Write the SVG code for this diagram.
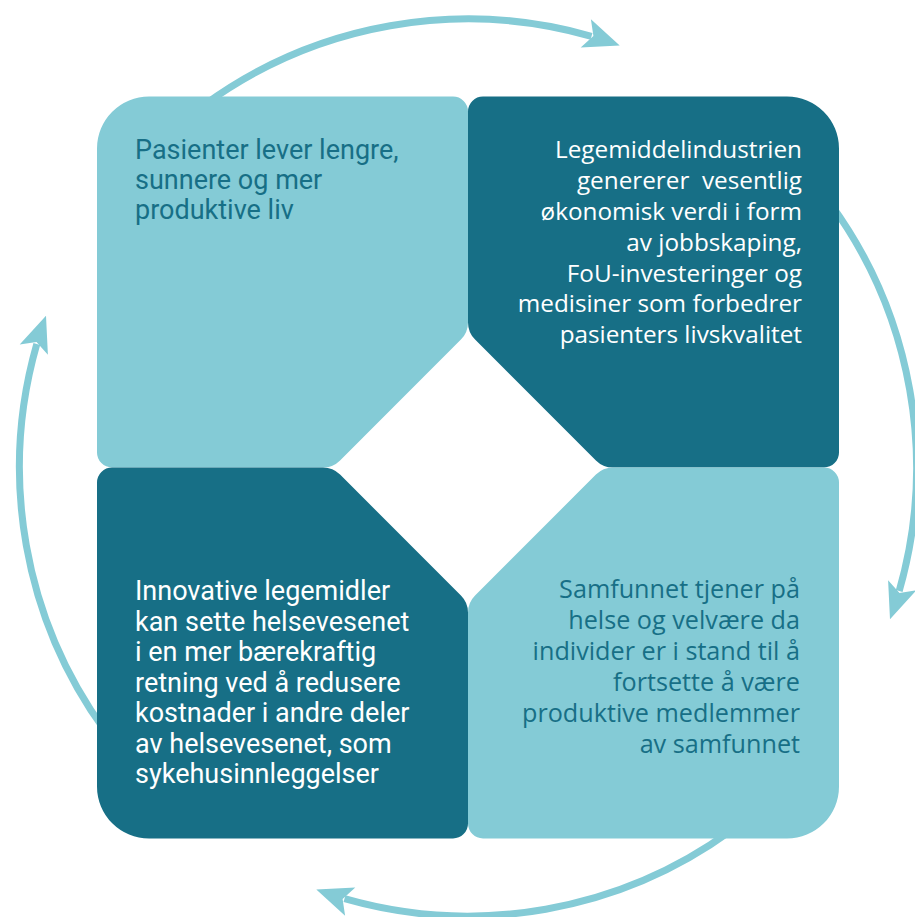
<svg xmlns="http://www.w3.org/2000/svg" xmlns:xlink="http://www.w3.org/1999/xlink" width="915" height="917" viewBox="0 0 915 917">
<defs>
<style>
.light{fill:#84CBD6}
.dark{fill:#176F86}
.arc{fill:none;stroke:#84CBD6;stroke-width:7}
.head{fill:#84CBD6}
.tr{font-family:Roboto,"Liberation Sans",sans-serif}
.th{font-family:"Open Sans","Liberation Sans",sans-serif}
.tw{fill:#FFFFFF}
.td{fill:#176F86}
</style>
<path id="tile" d="M -319,-371 H -15 A 15 15 0 0 1 0,-356 V -145 Q 0,-135 -7.07,-127.93 L -127.93,-7.07 Q -135,0 -145,0 H -356 A 15 15 0 0 1 -371,-15 V -319 A 52 52 0 0 1 -319,-371 Z"/>
<g id="arrow">
<path class="arc" d="M 204.7,104.6 A 448 448 0 0 1 591.5,36.3"/>
<polygon class="head" points="619.7,45.5 590.9,19.2 593.4,36.0 580.7,47.4"/>
</g>
</defs>
<rect width="915" height="917" fill="#FFFFFF"/>
<g id="connectors">
<use xlink:href="#arrow"/>
<use xlink:href="#arrow" transform="rotate(90 468 467.5)"/>
<use xlink:href="#arrow" transform="rotate(180 468 467.5)"/>
<use xlink:href="#arrow" transform="rotate(270 468 467.5)"/>
</g>
<g id="node-top-left">
<use xlink:href="#tile" class="light" transform="translate(468 467.5)"/>
<text class="tr td" font-size="27" x="135"><tspan x="135" y="159">Pasienter lever lengre,</tspan><tspan x="135" y="189">sunnere og mer</tspan><tspan x="135" y="219">produktive liv</tspan></text>
</g>
<g id="node-top-right">
<use xlink:href="#tile" class="dark" transform="translate(468 467.5) rotate(90)"/>
<text class="th tw" font-size="24.3" text-anchor="end" xml:space="preserve"><tspan x="802" y="158">Legemiddelindustrien</tspan><tspan x="802" y="189">genererer  vesentlig</tspan><tspan x="802" y="220">økonomisk verdi i form</tspan><tspan x="802" y="251">av jobbskaping,</tspan><tspan x="802" y="282">FoU-investeringer og</tspan><tspan x="802" y="312">medisiner som forbedrer</tspan><tspan x="802" y="343">pasienters livskvalitet</tspan></text>
</g>
<g id="node-bottom-right">
<use xlink:href="#tile" class="light" transform="translate(468 467.5) rotate(180)"/>
<text class="th td" font-size="25.2" text-anchor="end"><tspan x="800" y="598">Samfunnet tjener på</tspan><tspan x="800" y="629">helse og velvære da</tspan><tspan x="800" y="660">individer er i stand til å</tspan><tspan x="800" y="691">fortsette å være</tspan><tspan x="800" y="722">produktive medlemmer</tspan><tspan x="800" y="753">av samfunnet</tspan></text>
</g>
<g id="node-bottom-left">
<use xlink:href="#tile" class="dark" transform="translate(468 467.5) rotate(270)"/>
<text class="tr tw" font-size="27"><tspan x="135" y="600">Innovative legemidler</tspan><tspan x="135" y="630.5">kan sette helsevesenet</tspan><tspan x="135" y="661">i en mer bærekraftig</tspan><tspan x="135" y="691.5">retning ved å redusere</tspan><tspan x="135" y="722">kostnader i andre deler</tspan><tspan x="135" y="752.5">av helsevesenet, som</tspan><tspan x="135" y="783">sykehusinnleggelser</tspan></text>
</g>
</svg>
